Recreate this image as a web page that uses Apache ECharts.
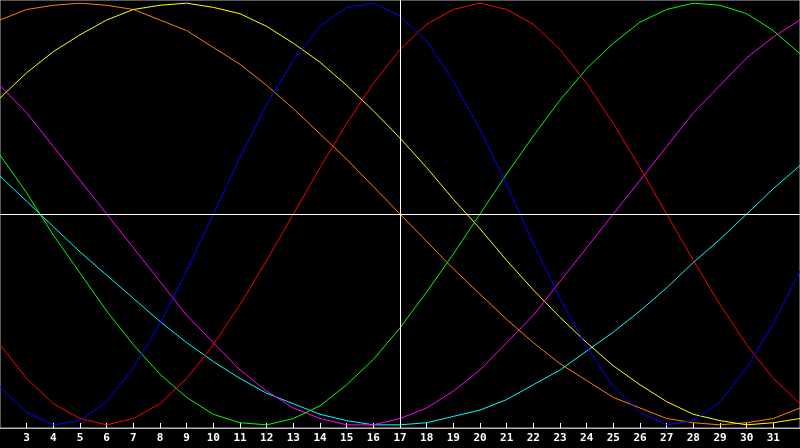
<!DOCTYPE html>
<html lang="en">
<head>
    <meta charset="UTF-8">
    <title>Biorhythm</title>
    <script src="https://cdn.jsdelivr.net/npm/echarts@6/dist/echarts.min.js"></script>
    <style>
        html, body { margin: 0; padding: 0; background: #000; }
    </style>
</head>
<body>
<div id="main" style="width: 800px;height:448px;"></div>
<script>
    // day numbers along the x axis
    var days = [2, 3, 4, 5, 6, 7, 8, 9, 10, 11, 12, 13, 14, 15, 16, 17, 18, 19, 20, 21, 22, 23, 24, 25, 26, 27, 28, 29, 30, 31, 32];

    // values, one per day
    var physical = [-0.82, -0.94, -1.00, -0.98, -0.89, -0.73, -0.52, -0.27, 0, 0.27, 0.52, 0.73, 0.89, 0.98, 1.00, 0.94, 0.82, 0.63, 0.40, 0.14, -0.14, -0.40, -0.63, -0.82, -0.94, -1.00, -0.98, -0.89, -0.73, -0.52, -0.27];
    var emotional = [-0.62, -0.78, -0.90, -0.97, -1.00, -0.97, -0.90, -0.78, -0.62, -0.43, -0.22, 0, 0.22, 0.43, 0.62, 0.78, 0.90, 0.97, 1.00, 0.97, 0.90, 0.78, 0.62, 0.43, 0.22, 0, -0.22, -0.43, -0.62, -0.78, -0.90];
    var intellectual = [0.28, 0.10, -0.10, -0.28, -0.46, -0.62, -0.76, -0.87, -0.95, -0.99, -1.00, -0.97, -0.91, -0.81, -0.69, -0.54, -0.37, -0.19, 0, 0.19, 0.37, 0.54, 0.69, 0.81, 0.91, 0.97, 1.00, 0.99, 0.95, 0.87, 0.76];
    var intuitive = [0.61, 0.48, 0.32, 0.16, 0, -0.16, -0.32, -0.48, -0.61, -0.74, -0.84, -0.92, -0.97, -1.00, -1.00, -0.97, -0.92, -0.84, -0.74, -0.61, -0.48, -0.32, -0.16, 0, 0.16, 0.32, 0.48, 0.61, 0.74, 0.84, 0.92];
    var aesthetic = [0.55, 0.67, 0.77, 0.85, 0.92, 0.97, 0.99, 1.00, 0.98, 0.95, 0.89, 0.81, 0.72, 0.61, 0.49, 0.36, 0.22, 0.07, -0.07, -0.22, -0.36, -0.49, -0.61, -0.72, -0.81, -0.89, -0.95, -0.98, -1.00, -0.99, -0.97];
    var awareness = [0.92, 0.97, 0.99, 1.00, 0.99, 0.97, 0.92, 0.87, 0.79, 0.71, 0.61, 0.50, 0.38, 0.26, 0.13, 0, -0.13, -0.26, -0.38, -0.50, -0.61, -0.71, -0.79, -0.87, -0.92, -0.97, -0.99, -1.00, -0.99, -0.97, -0.92];
    var spiritual = [0.18, 0.06, -0.06, -0.18, -0.29, -0.40, -0.51, -0.61, -0.70, -0.78, -0.85, -0.90, -0.95, -0.98, -1.00, -1.00, -0.99, -0.96, -0.93, -0.88, -0.81, -0.74, -0.65, -0.56, -0.46, -0.35, -0.23, -0.12, 0, 0.12, 0.23];

    var today = 17;

    function pairs(values) {
        return days.map(function (d, i) { return [d, values[i]]; });
    }

    function curve(name, values, color) {
        return {
            name: name,
            type: 'line',
            data: pairs(values),
            showSymbol: false,
            symbol: 'none',
            z: 3,
            lineStyle: { color: color, width: 1 },
            itemStyle: { color: color },
            animation: false
        };
    }

    var myChart = echarts.init(document.getElementById('main'));

    var option = {
        backgroundColor: '#000000',
        animation: false,
        grid: {
            left: 0, right: 0, top: 0, bottom: 20,
            show: true,
            backgroundColor: '#000000',
            borderColor: '#b4b4b4',
            borderWidth: 1
        },
        xAxis: {
            type: 'value',
            min: 2,
            max: 32,
            interval: 1,
            axisLine: { show: true, onZero: false, lineStyle: { color: '#b4b4b4', width: 1 } },
            axisTick: { show: true, inside: true, length: 5, lineStyle: { color: '#ffffff' } },
            axisLabel: {
                showMinLabel: false,
                showMaxLabel: false,
                color: '#ffffff',
                fontFamily: 'DejaVu Sans Mono',
                fontWeight: 'bold',
                fontSize: 11,
                margin: 5
            },
            splitLine: { show: false }
        },
        yAxis: {
            type: 'value',
            min: -1.015,
            max: 1.015,
            axisLine: { show: false },
            axisTick: { show: false },
            axisLabel: { show: false },
            splitLine: { show: false }
        },
        series: [
            {
                name: 'cross',
                type: 'line',
                data: [],
                z: 1,
                markLine: {
                    silent: true,
                    symbol: 'none',
                    animation: false,
                    label: { show: false },
                    lineStyle: { color: '#ffffff', width: 1, type: 'solid' },
                    data: [{ xAxis: today }, { yAxis: 0 }]
                }
            },
            curve('Spiritual', spiritual, '#00ffff'),
            curve('Awareness', awareness, '#ff8000'),
            curve('Aesthetic', aesthetic, '#ffff00'),
            curve('Intuitive', intuitive, '#ff00ff'),
            curve('Intellectual', intellectual, '#00ff00'),
            curve('Emotional', emotional, '#ff0000'),
            curve('Physical', physical, '#0000ff')
        ]
    };

    myChart.setOption(option);
</script>
</body>
</html>
